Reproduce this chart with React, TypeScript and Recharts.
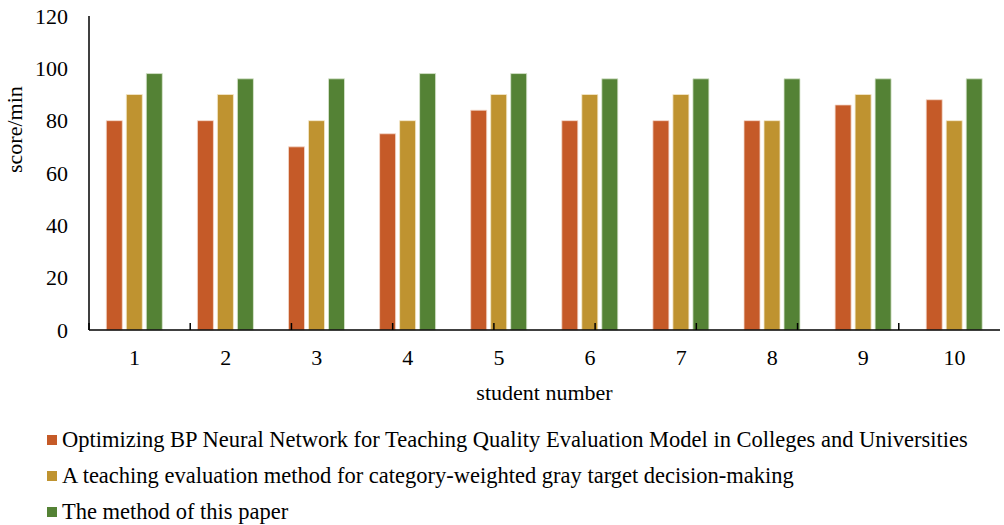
import React from "react";
import {Bar, BarChart, Legend, XAxis, YAxis} from "recharts";

const students = ["1", "2", "3", "4", "5", "6", "7", "8", "9", "10"];
const bpScores = [80, 80, 70, 75, 84, 80, 80, 80, 86, 88];
const grayScores = [90, 90, 80, 80, 90, 90, 90, 80, 90, 80];
const paperScores = [98, 96, 96, 98, 98, 96, 96, 96, 96, 96];
const yTicks = [0, 20, 40, 60, 80, 100, 120];
const edgeTicks = [0, 1, 2, 3, 4, 5, 6, 7, 8, 9, 10];

const seriesNames = [
    "Optimizing BP Neural Network for Teaching Quality Evaluation Model in Colleges and Universities",
    "A teaching evaluation method for category-weighted gray target decision-making",
    "The method of this paper",
];

const data = students.map((s, i) => ({
    student: s,
    bp: bpScores[i],
    gray: grayScores[i],
    paper: paperScores[i],
}));

const FONT = "'Liberation Serif', 'Times New Roman', serif";

const renderLegend = (props: any) => {
    const {payload} = props;
    if (!payload || !payload.length) return null;
    // keep the series order, recharts sorts by name otherwise
    const items = [...payload].sort((a: any, b: any) => seriesNames.indexOf(a.value) - seriesNames.indexOf(b.value));
    return (
        <div style={{fontFamily: FONT, fontSize: 22.5, color: "#000", marginBottom: -5}}>
            {items.map((p: any) => (
                <div key={p.value} style={{display: "flex", alignItems: "center", height: 36, whiteSpace: "nowrap"}}>
                    <span style={{width: 10, height: 10, background: p.color, marginRight: 5, display: "inline-block"}}/>
                    <span>{p.value}</span>
                </div>
            ))}
        </div>
    );
};

export default function App() {
    return (
        <div style={{position: "absolute", left: 0, top: 0, background: "#fff"}}>
            <BarChart
                width={1004}
                height={525}
                data={data}
                margin={{top: 16, right: 4, left: 0, bottom: 0}}
                barCategoryGap="19%"
                barGap={4}
            >
                <XAxis
                    dataKey="student"
                    tickLine={false}
                    axisLine={{stroke: "#000", strokeWidth: 1.5}}
                    tick={{fill: "#000", fontSize: 22, fontFamily: FONT}}
                    tickMargin={13}
                    height={72}
                    label={{value: "student number", position: "insideBottom", offset: 2, fill: "#000", fontSize: 22, fontFamily: FONT}}
                />
                <XAxis
                    xAxisId="edge"
                    type="number"
                    domain={[0, 10]}
                    ticks={edgeTicks}
                    mirror
                    axisLine={false}
                    tickSize={7}
                    tickLine={{stroke: "#000", strokeWidth: 1.5}}
                    tickFormatter={() => ""}
                />
                <YAxis
                    domain={[0, 120]}
                    ticks={yTicks}
                    width={89}
                    tickLine={false}
                    axisLine={{stroke: "#000", strokeWidth: 1.5}}
                    tick={{fill: "#000", fontSize: 22, fontFamily: FONT}}
                    tickMargin={15}
                    label={{value: "score/min", angle: -90, position: "insideLeft", offset: 14, fill: "#000", fontSize: 22, fontFamily: FONT}}
                />
                <YAxis
                    yAxisId="in"
                    domain={[0, 120]}
                    ticks={yTicks}
                    mirror
                    axisLine={false}
                    tickSize={6}
                    tickLine={{stroke: "#000", strokeWidth: 1.5}}
                    tickFormatter={() => ""}
                />
                <Legend
                    layout="horizontal"
                    verticalAlign="bottom"
                    align="left"
                    content={renderLegend}
                    wrapperStyle={{left: 47, paddingTop: 20}}
                />
                <Bar dataKey="bp" name={seriesNames[0]} fill="#C55A28" stroke="#f4d9cc" strokeWidth={0.8} isAnimationActive={false}/>
                <Bar dataKey="gray" name={seriesNames[1]} fill="#BF9330" stroke="#f4e8cc" strokeWidth={0.8} isAnimationActive={false}/>
                <Bar dataKey="paper" name={seriesNames[2]} fill="#548235" stroke="#d9e6cf" strokeWidth={0.8} isAnimationActive={false}/>
            </BarChart>
        </div>
    );
}
